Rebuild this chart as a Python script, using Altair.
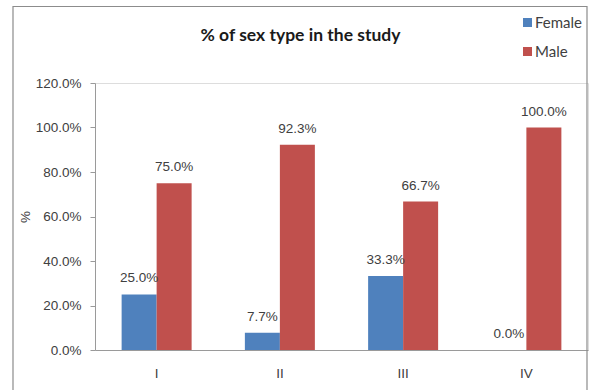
import altair as alt
import pandas as pd

# Share of each sex within every study group (percent)
groups = ["I", "II", "III", "IV"]
sexes = ["Female", "Male"]
female_pct = [25.0, 7.7, 33.3, 0.0]
male_pct = [75.0, 92.3, 66.7, 100.0]
y_ticks = [0, 20, 40, 60, 80, 100, 120]
bar_colors = ["#4F81BD", "#C0504D"]

rows = []
for g, f, m in zip(groups, female_pct, male_pct):
    rows.append({"group": g, "sex": "Female", "pct": f})
    rows.append({"group": g, "sex": "Male", "pct": m})
df = pd.DataFrame(rows)
df["label"] = df["pct"].map(lambda v: f"{v:.1f}%")

TEXT = "#404040"
LABEL_FONT = "Liberation Sans"

x_enc = alt.X(
    "group:N",
    sort=groups,
    scale=alt.Scale(paddingInner=0.432, paddingOuter=0.216),
    axis=alt.Axis(
        title=None, labelAngle=0, ticks=False, labelPadding=16,
        labelFont=LABEL_FONT, labelFontSize=13.5, labelColor=TEXT,
        domainColor="#9a9a9a", grid=False,
    ),
)
y_enc = alt.Y(
    "pct:Q",
    scale=alt.Scale(domain=[0, 120], nice=False),
    axis=alt.Axis(
        title="%", values=y_ticks, grid=False,
        labelExpr="format(datum.value, '.1f') + '%'",
        labelFont=LABEL_FONT, labelFontSize=13.5, labelColor=TEXT,
        tickSize=5, tickColor="#9a9a9a", domainColor="#9a9a9a", labelPadding=9,
        titleFont=LABEL_FONT, titleFontSize=13.5, titleColor=TEXT,
        titleX=-70, titleY=133.5, titleAlign="center", titleBaseline="middle",
        titleAngle=270, titleFontWeight="normal",
    ),
)
color_enc = alt.Color(
    "sex:N",
    scale=alt.Scale(domain=sexes, range=bar_colors),
    legend=alt.Legend(
        title=None, orient="none", legendX=425, legendY=-68,
        symbolType="square", symbolSize=81, symbolStrokeWidth=0,
        labelFont="Lato", labelFontSize=15, labelColor=TEXT,
        labelOffset=0, rowPadding=13,
    ),
)

base = alt.Chart(df)

# Outer frame around the whole chart
frame = base.mark_rect(
    fill=None, stroke="#8c8c8c", strokeWidth=1.2, clip=False
).encode(
    x=alt.value(-82), x2=alt.value(492), y=alt.value(-76.5), y2=alt.value(330)
).transform_filter("datum.group == 'I' && datum.sex == 'Female'")

bars = base.mark_bar().encode(
    x=x_enc,
    xOffset=alt.XOffset("sex:N", sort=sexes, scale=alt.Scale(paddingInner=0, paddingOuter=0)),
    y=y_enc,
    color=color_enc,
)

labels = base.mark_text(
    baseline="alphabetic", dy=-12, font=LABEL_FONT, fontSize=13.5, color=TEXT
).encode(
    x=alt.X("group:N", sort=groups),
    xOffset=alt.XOffset("sex:N", sort=sexes),
    y=alt.Y("pct:Q"),
    text="label:N",
)

chart = alt.layer(frame, bars, labels).properties(
    width=493,
    height=267,
    autosize=alt.AutoSizeParams(type="none"),
    padding={"left": 95, "top": 83, "right": 1, "bottom": 40},
    title=alt.TitleParams(
        "% of sex type in the study",
        font="Lato", fontSize=17.5, fontWeight="bold", color="#1a1a1a",
        anchor="middle", frame="group", dx=-41, dy=53, offset=0,
        baseline="alphabetic",
    ),
).configure_view(stroke=None).configure(background="white")

chart.save("out.html", embed_options={"renderer": "svg", "actions": False})
